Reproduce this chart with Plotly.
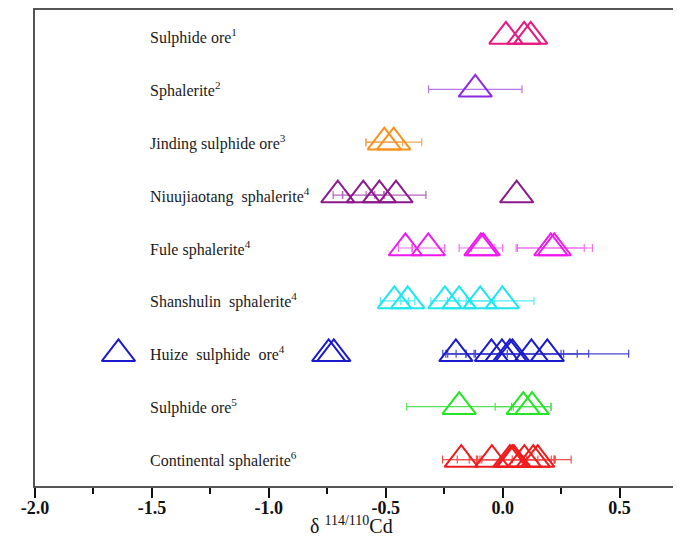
import plotly.graph_objects as go

# Row labels (top to bottom) and their y positions
labels = ["Sulphide ore<sup>1</sup>", "Sphalerite<sup>2</sup>", "Jinding sulphide ore<sup>3</sup>",
          "Niuujiaotang&nbsp;&nbsp;sphalerite<sup>4</sup>", "Fule sphalerite<sup>4</sup>",
          "Shanshulin&nbsp;&nbsp;sphalerite<sup>4</sup>", "Huize&nbsp;&nbsp;sulphide&nbsp;&nbsp;ore<sup>4</sup>",
          "Sulphide ore<sup>5</sup>", "Continental sphalerite<sup>6</sup>"]
rows = [9, 8, 7, 6, 5, 4, 3, 2, 1]
xticks = [-2.0, -1.5, -1.0, -0.5, 0.0, 0.5]
xtick_text = ["-2.0", "-1.5", "-1.0", "-0.5", "0.0", "0.5"]

# delta 114/110 Cd values and 2SD errors per group (None = no error bar)
sulphide1_x = [0.014, 0.092, 0.120]
sulphide1_e = [None, None, None]
sphalerite2_x = [-0.117]
sphalerite2_e = [0.200]
jinding_x = [-0.506, -0.466]
jinding_e = [0.078, 0.120]
niuu_x = [-0.705, -0.596, -0.527, -0.456, 0.060]
niuu_e = [0.02, 0.088, 0.02, 0.128, None]
fule_x = [-0.416, -0.318, -0.093, -0.083, 0.206, 0.221]
fule_e = [0.030, 0.070, 0.093, 0.050, 0.143, 0.163]
shan_x = [-0.463, -0.406, -0.247, -0.186, -0.096, -0.001]
shan_e = [0.060, 0.030, 0.060, 0.050, 0.060, 0.135]
huize_x = [-1.643, -0.744, -0.722, -0.200, -0.048, -0.003, 0.031, 0.042, 0.123, 0.191]
huize_e = [None, None, None, 0.043, 0.068, 0.253, 0.230, 0.277, 0.245, 0.348]
sulphide5_x = [-0.186, 0.088, 0.126]
sulphide5_e = [0.224, 0.120, 0.080]
cont_x = [-0.177, -0.046, 0.031, 0.041, 0.048, 0.093, 0.131, 0.150]
cont_e = [0.080, 0.148, 0.120, 0.184, 0.160, 0.200, 0.090, 0.070]

groups = [
    (sulphide1_x, sulphide1_e, "#e8197e", "#ee5fa0"),
    (sphalerite2_x, sphalerite2_e, "#8a2be2", "#b777ea"),
    (jinding_x, jinding_e, "#f7921e", "#f5a85a"),
    (niuu_x, niuu_e, "#8b1a8b", "#b266bb"),
    (fule_x, fule_e, "#ee1aee", "#f070f0"),
    (shan_x, shan_e, "#1ee6f0", "#55eef5"),
    (huize_x, huize_e, "#1a1acd", "#4848cc"),
    (sulphide5_x, sulphide5_e, "#22e622", "#55e055"),
    (cont_x, cont_e, "#ee1c1c", "#ee5050"),
]

fig = go.Figure()
for (xs, es, col, ecol), yv in zip(groups, rows):
    # points with error bars
    xe = [x for x, e in zip(xs, es) if e is not None]
    ee = [e for e in es if e is not None]
    if xe:
        fig.add_trace(go.Scatter(
            x=xe, y=[yv] * len(xe), mode="markers",
            marker=dict(symbol="triangle-up-open", size=29, color=col, line=dict(width=2, color=col)),
            error_x=dict(type="data", array=ee, visible=True, color=ecol, thickness=1.2, width=4),
            showlegend=False, hoverinfo="x",
        ))
    # points without error bars
    xn = [x for x, e in zip(xs, es) if e is None]
    if xn:
        fig.add_trace(go.Scatter(
            x=xn, y=[yv] * len(xn), mode="markers",
            marker=dict(symbol="triangle-up-open", size=29, color=col, line=dict(width=2, color=col)),
            showlegend=False, hoverinfo="x",
        ))

for lab, yv in zip(labels, rows):
    fig.add_annotation(x=-1.518, y=yv, xref="x", yref="y", text=lab, showarrow=False,
                       xanchor="left", yanchor="middle",
                       font=dict(family="Liberation Serif", size=16, color="#1a1a1a"))

# x axis title as annotation for exact placement
fig.add_annotation(x=0.492, y=-0.052, xref="paper", yref="paper", text="δ <sup>114/110</sup>Cd",
                   showarrow=False, xanchor="center", yanchor="top",
                   font=dict(family="Liberation Serif", size=20, color="#111"))

# page body has an 8px default margin: compensate in figure size/margins
fig.update_layout(
    width=673, height=534,
    margin=dict(l=27, r=3, t=2, b=56),
    paper_bgcolor="white", plot_bgcolor="white",
    xaxis=dict(range=[-2.0, 0.75], tickvals=xticks, ticktext=xtick_text, automargin=False,
               ticks="outside", ticklen=10, tickwidth=2, tickcolor="#111",
               ticklabelstandoff=-6,
               minor=dict(dtick=0.25, tick0=0, ticks="outside", ticklen=6, tickwidth=2, tickcolor="#111"),
               showline=True, mirror=True, linecolor="#555", linewidth=2,
               showgrid=False, zeroline=False,
               tickfont=dict(family="Liberation Serif", size=18, color="#111", weight="bold")),
    yaxis=dict(range=[0.5, 9.5], showticklabels=False, ticks="", automargin=False,
               showline=True, mirror=True, linecolor="#555", linewidth=2,
               showgrid=False, zeroline=False),
)

fig.write_html("out.html")
